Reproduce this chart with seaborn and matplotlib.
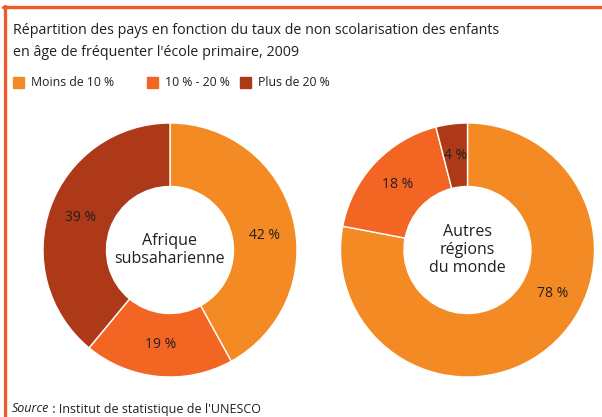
import matplotlib
matplotlib.use("Agg")
import matplotlib.pyplot as plt
from matplotlib.patches import Rectangle
from matplotlib.lines import Line2D
import seaborn as sns
import numpy as np

# Share of countries by out-of-school rate of primary-age children, 2009
categories = ["Moins de 10 %", "10 % - 20 %", "Plus de 20 %"]
afrique_values = [42, 19, 39]
autres_values = [78, 18, 4]
afrique_title = "Afrique\nsubsaharienne"
autres_title = "Autres\nrégions\ndu monde"
title = ("Répartition des pays en fonction du taux de non scolarisation des enfants\n"
         "en âge de fréquenter l'école primaire, 2009")
source_label = "Source"
source_text = " : Institut de statistique de l'UNESCO"

sns.set_theme(style="white")
plt.rcParams["font.family"] = ["Open Sans", "DejaVu Sans"]

palette = sns.color_palette(["#F48A24", "#F26522", "#AD3918"])
text_color = "#231F20"
frame_color = "#F05A2B"

W, H = 602, 417
fig = plt.figure(figsize=(W / 100, H / 100), dpi=100)
fig.patch.set_facecolor("white")


def fx(px):
    return px / W


def fy(py):
    return 1 - py / H


# orange frame: top rule and left rule
fig.add_artist(Line2D([fx(3), fx(W)], [fy(7), fy(7)], color=frame_color, lw=2.4))
fig.add_artist(Line2D([fx(4.5), fx(4.5)], [fy(6), fy(H)], color=frame_color, lw=2.4))

fig.text(fx(13), fy(41.5), title, ha="left", va="center", fontsize=10.3,
         color=text_color, linespacing=1.7)

# legend
legend_x = [13, 147, 240]
for x, lab, col in zip(legend_x, categories, palette):
    fig.add_artist(Rectangle((fx(x), fy(88)), fx(11), 11 / H, color=col,
                             transform=fig.transFigure))
    fig.text(fx(x + 18), fy(82), lab, ha="left", va="center", fontsize=8.8,
             color=text_color)


def donut(cx, cy, r, values, center_label, label_angle_override=None):
    ax = fig.add_axes([fx(cx - r), fy(cy + r), 2 * r / W, 2 * r / H])
    wedges, _ = ax.pie(values, colors=palette, startangle=90, counterclock=False,
                       radius=1, wedgeprops=dict(width=0.5, edgecolor="white",
                                                 linewidth=1.0))
    # value labels placed inside each ring segment
    total = sum(values)
    start = 90.0
    for i, v in enumerate(values):
        span = 360.0 * v / total
        mid = start - span / 2
        if label_angle_override and i in label_angle_override:
            mid = label_angle_override[i]
        rr = 0.75
        ax.text(rr * np.cos(np.radians(mid)), rr * np.sin(np.radians(mid)),
                f"{v} %", ha="center", va="center", fontsize=10,
                color=text_color)
        start -= span
    ax.text(0, 0, center_label, ha="center", va="center", fontsize=11.5,
            color=text_color, linespacing=1.2)
    ax.set_xlim(-1, 1)
    ax.set_ylim(-1, 1)
    ax.set_aspect("equal")
    ax.axis("off")
    return ax


donut(170, 250, 127, afrique_values, afrique_title, {0: 9})
donut(467.5, 250, 127, autres_values, autres_title, {0: -27})

fig.text(fx(12), fy(409), source_label, ha="left", va="center", fontsize=9,
         style="italic", color=text_color)
fig.text(fx(12 + 37), fy(409), source_text, ha="left", va="center", fontsize=9,
         color=text_color)

fig.savefig("out.png", dpi=100, facecolor="white")
